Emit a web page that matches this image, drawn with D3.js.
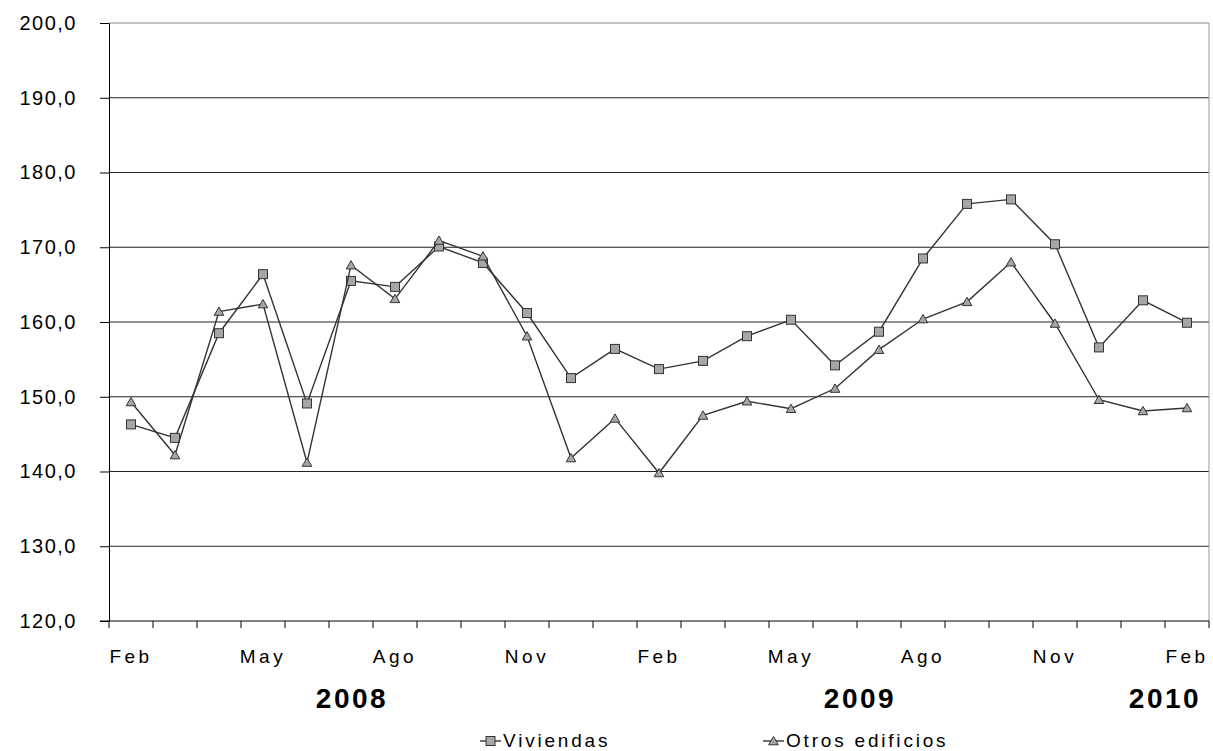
<!DOCTYPE html>
<html lang="en">
<head>
<meta charset="UTF-8">
<script src="https://unpkg.com/d3@7/dist/d3.min.js"></script>
<style>
  body { margin: 0; background: #fff; }
  svg text { font-family: "Liberation Sans", Arial, sans-serif; fill: #000; }
</style>
<title>chart</title>
</head>
<body>
<svg id="chart" width="1213" height="751"></svg>
<script>
    // Data
    const months = ['Feb', 'Mar', 'Abr', 'May', 'Jun', 'Jul', 'Ago', 'Sep', 'Oct', 'Nov', 'Dic', 'Ene',
        'Feb', 'Mar', 'Abr', 'May', 'Jun', 'Jul', 'Ago', 'Sep', 'Oct', 'Nov', 'Dic', 'Ene', 'Feb'];
    const shownMonths = [0, 3, 6, 9, 12, 15, 18, 21, 24];
    const viviendas = [146.3, 144.5, 158.5, 166.4, 149.1, 165.5, 164.7, 170.1, 167.9, 161.2, 152.5, 156.4,
        153.7, 154.8, 158.1, 160.3, 154.2, 158.7, 168.5, 175.8, 176.4, 170.4, 156.6, 162.9, 159.9];
    const otros = [149.3, 142.2, 161.4, 162.4, 141.2, 167.6, 163.1, 170.9, 168.8, 158.1, 141.8, 147.1,
        139.8, 147.5, 149.4, 148.4, 151.1, 156.3, 160.4, 162.7, 168.0, 159.8, 149.6, 148.1, 148.5];
    const yTicks = [120, 130, 140, 150, 160, 170, 180, 190, 200];
    const years = [{label: '2008', x: 352}, {label: '2009', x: 860}, {label: '2010', x: 1165}];

    const svg = d3.select('#chart');
    const mLeft = 109, mRight = 1209, mTop = 23, mBottom = 621;

    const x = d3.scaleBand().domain(d3.range(months.length)).range([mLeft, mRight]);
    const y = d3.scaleLinear().domain([120, 200]).range([mBottom, mTop]);
    const cx = i => x(i) + x.bandwidth() / 2;

    // Grid lines
    svg.append('g').selectAll('line').data(yTicks.slice(1)).join('line')
        .attr('x1', mLeft).attr('x2', mRight)
        .attr('y1', d => y(d)).attr('y2', d => y(d))
        .attr('stroke', d => d === 200 ? '#888' : '#222').attr('stroke-width', 1);
    svg.append('line').attr('x1', mRight).attr('x2', mRight).attr('y1', mTop).attr('y2', mBottom)
        .attr('stroke', '#999');

    // Y axis
    const yAxis = svg.append('g').attr('transform', `translate(${mLeft},0)`)
        .call(d3.axisLeft(y).tickValues(yTicks).tickSize(9).tickSizeOuter(0)
            .tickFormat(d => d3.format('.1f')(d).replace('.', ',')));
    yAxis.select('.domain').attr('stroke', '#000');
    yAxis.selectAll('.tick line').attr('stroke', '#000');
    yAxis.selectAll('text').attr('font-size', 20).attr('x', -32).attr('letter-spacing', 1.5)
        .style('font-family', '"Liberation Sans", Arial, sans-serif');

    // X axis
    const xAxis = svg.append('g').attr('transform', `translate(0,${mBottom})`);
    xAxis.append('line').attr('x1', mLeft - 9).attr('x2', mRight).attr('stroke', '#000');
    xAxis.selectAll('.tk').data(d3.range(months.length + 1)).join('line')
        .attr('x1', i => mLeft + i * x.bandwidth()).attr('x2', i => mLeft + i * x.bandwidth())
        .attr('y1', 0).attr('y2', 7).attr('stroke', '#000');
    xAxis.selectAll('text').data(shownMonths).join('text')
        .attr('x', i => cx(i)).attr('y', 42).attr('text-anchor', 'middle')
        .attr('font-size', 19).attr('letter-spacing', 3.5)
        .text(i => months[i]);

    svg.selectAll('.year').data(years).join('text')
        .attr('x', d => d.x).attr('y', 708).attr('text-anchor', 'middle')
        .attr('font-size', 28).attr('font-weight', 'bold').attr('letter-spacing', 2.5)
        .text(d => d.label);

    // Lines
    const line = d3.line().x((d, i) => cx(i)).y(d => y(d));
    const tri = d3.symbol().type(d3.symbolTriangle).size(40);

    function series(data, marker) {
        svg.append('path').datum(data).attr('d', line)
            .attr('fill', 'none').attr('stroke', '#333').attr('stroke-width', 1.4);
        const g = svg.append('g');
        data.forEach((d, i) => drawMarker(g, marker, cx(i), y(d)));
    }

    function drawMarker(g, marker, px, py) {
        if (marker === 'square') {
            g.append('rect').attr('x', px - 4.5).attr('y', py - 4.5).attr('width', 9).attr('height', 9)
                .attr('fill', '#a6a6a6').attr('stroke', '#333').attr('stroke-width', 1);
        } else {
            g.append('path').attr('d', tri).attr('transform', `translate(${px},${py + 1})`)
                .attr('fill', '#a6a6a6').attr('stroke', '#333').attr('stroke-width', 1);
        }
    }

    series(viviendas, 'square');
    series(otros, 'triangle');

    // Legend
    const legend = [{label: 'Viviendas', marker: 'square', x: 480}, {label: 'Otros edificios', marker: 'triangle', x: 763}];
    legend.forEach(l => {
        const g = svg.append('g');
        g.append('line').attr('x1', l.x).attr('x2', l.x + 21).attr('y1', 741).attr('y2', 741)
            .attr('stroke', '#333').attr('stroke-width', 1.4);
        drawMarker(g, l.marker, l.x + 10.5, 741);
        g.append('text').attr('x', l.x + 23).attr('y', 747).attr('font-size', 19).attr('letter-spacing', 2.8)
            .text(l.label);
    });
</script>
</body>
</html>
